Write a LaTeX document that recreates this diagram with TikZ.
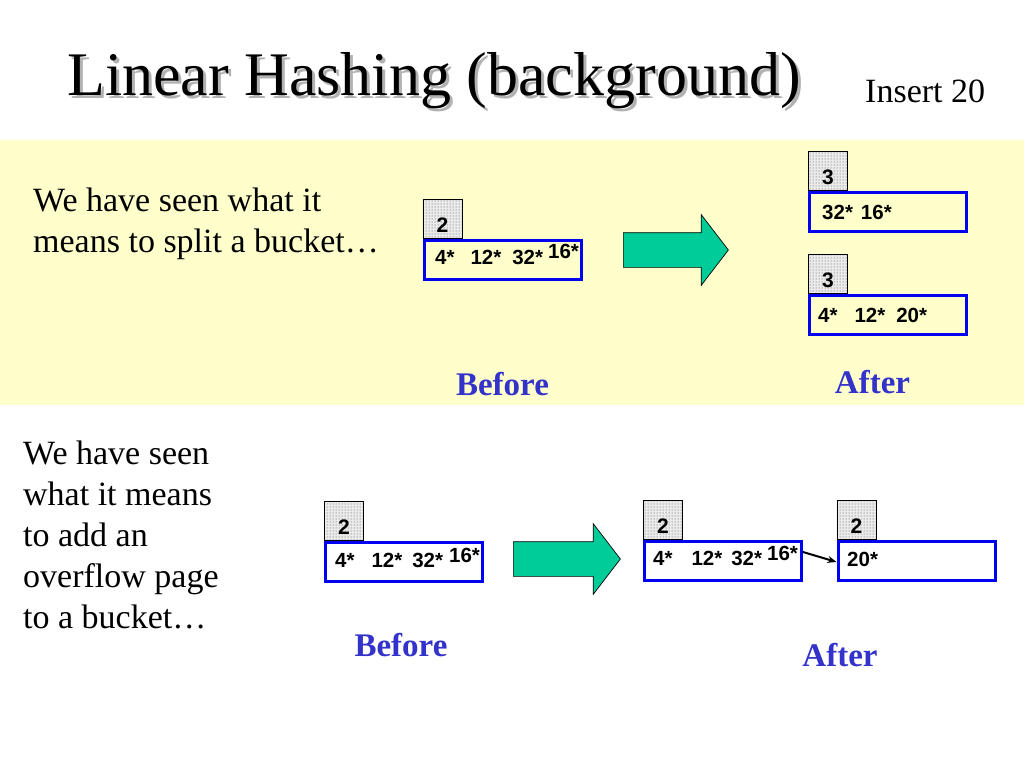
\documentclass[tikz,border=0pt]{standalone}
\usepackage{fontspec}
\setmainfont{Liberation Serif}
\setsansfont{Liberation Sans}
\usepackage{tikz}
\usetikzlibrary{shapes.arrows, patterns, positioning, arrows.meta}
\definecolor{band}{RGB}{255,255,204}
\definecolor{capblue}{RGB}{51,51,204}
\definecolor{bucketblue}{RGB}{0,0,240}
\definecolor{arrowgreen}{RGB}{0,204,153}
\tikzstyle{depth} = [rectangle,
minimum width=39pt,
minimum height=39pt,
inner sep=0pt,
text height=27pt, text depth=0pt,
draw=black, line width=0.7pt,
preaction={fill=black!8},
pattern=dots, pattern color=black!70,
font=\sffamily\bfseries\fontsize{21}{24}\selectfont]
\tikzstyle{bucket} = [rectangle,
minimum width=157pt,
minimum height=39pt,
inner sep=0pt,
draw=bucketblue, line width=3pt]
\tikzstyle{entries} = [anchor=base west, inner sep=0pt,
font=\sffamily\bfseries\fontsize{20.5}{24}\selectfont]
\tikzstyle{caption} = [anchor=base, inner sep=0pt, text=capblue,
font=\bfseries\fontsize{33}{40}\selectfont]
\tikzstyle{body} = [anchor=base west, inner sep=0pt, align=left,
font=\fontsize{34}{41}\selectfont]
\tikzstyle{bigarrow} = [single arrow, anchor=tail,
minimum height=105pt,
inner xsep=0pt, inner ysep=17pt,
single arrow head extend=18pt,
single arrow tip angle=105,
draw=black, line width=0.7pt, fill=arrowgreen]
\tikzstyle{arrow} = [line width=2pt,-{Stealth[length=9pt,width=7pt]}]

\begin{document}
\begin{tikzpicture}[x=1pt, y=-1pt]
            \useasboundingbox (0,0) rectangle (1024,768);
            \fill[white] (0,0) rectangle (1024,768);
            \fill[band] (0,140) rectangle (1024,405);

            \node (shadow) [anchor=base west, inner sep=0pt, text=black!30, font=\fontsize{62}{70}\selectfont] at (70,98) {Linear Hashing (background)};
            \node (title) [anchor=base west, inner sep=0pt, font=\fontsize{62}{70}\selectfont] at (67,95) {Linear Hashing (background)};
            \node (insert) [anchor=base west, inner sep=0pt, font=\fontsize{34}{41}\selectfont] at (865,102) {Insert 20};

            % splitting a bucket
            \node (splittext) [body] at (33,252) {We have seen what it\\means to split a bucket\dots};
            \node (b1) [bucket] at (502.5,260) {};
            \node (b1d) [depth, above right=0pt of b1.north west] {2};
            \node (b1e) [entries] at (435,264) {4*\hspace{16pt}12*\hspace{11pt}32*\hspace{5pt}\raisebox{6pt}{16*}};
            \node (go1) [bigarrow] at (623,250) {};
            \node (a1) [bucket] at (888,211.5) {};
            \node (a1d) [depth, above right=0pt of a1.north west] {3};
            \node (a1e) [entries] at (822,219) {32*\hspace{8pt}16*};
            \node (a2) [bucket] at (888,315) {};
            \node (a2d) [depth, above right=0pt of a2.north west] {3};
            \node (a2e) [entries] at (818,322) {4*\hspace{17pt}12*\hspace{11pt}20*};
            \node (before1) [caption] at (502.5,395) {Before};
            \node (after1) [caption] at (872.5,393) {After};

            % overflow page
            \node (overtext) [body] at (23,628) {We have seen\\what it means\\to add an\\overflow page\\to a bucket\dots};
            \node (c1) [bucket] at (404,562) {};
            \node (c1d) [depth, above right=0pt of c1.north west] {2};
            \node (c1e) [entries] at (335,567) {4*\hspace{17pt}12*\hspace{10pt}32*\hspace{6pt}\raisebox{5pt}{16*}};
            \node (go2) [bigarrow, minimum height=107pt] at (513,559) {};
            \node (d1) [bucket] at (723,560.5) {};
            \node (d1d) [depth, above right=0pt of d1.north west] {2};
            \node (d1e) [entries] at (653,565) {4*\hspace{19pt}12*\hspace{9pt}32*\hspace{5pt}\raisebox{5pt}{16*}};
            \node (d2) [bucket] at (916.5,560.5) {};
            \node (d2d) [depth, above right=0pt of d2.north west] {2};
            \node (d2e) [entries] at (847,566) {20*};
            \node (before2) [caption] at (401,656) {Before};
            \node (after2) [caption] at (840,666) {After};

            \draw [arrow] ([yshift=8.5pt]d1.east) -- ([yshift=-1.5pt]d2.west);
        \end{tikzpicture}
\end{document}
